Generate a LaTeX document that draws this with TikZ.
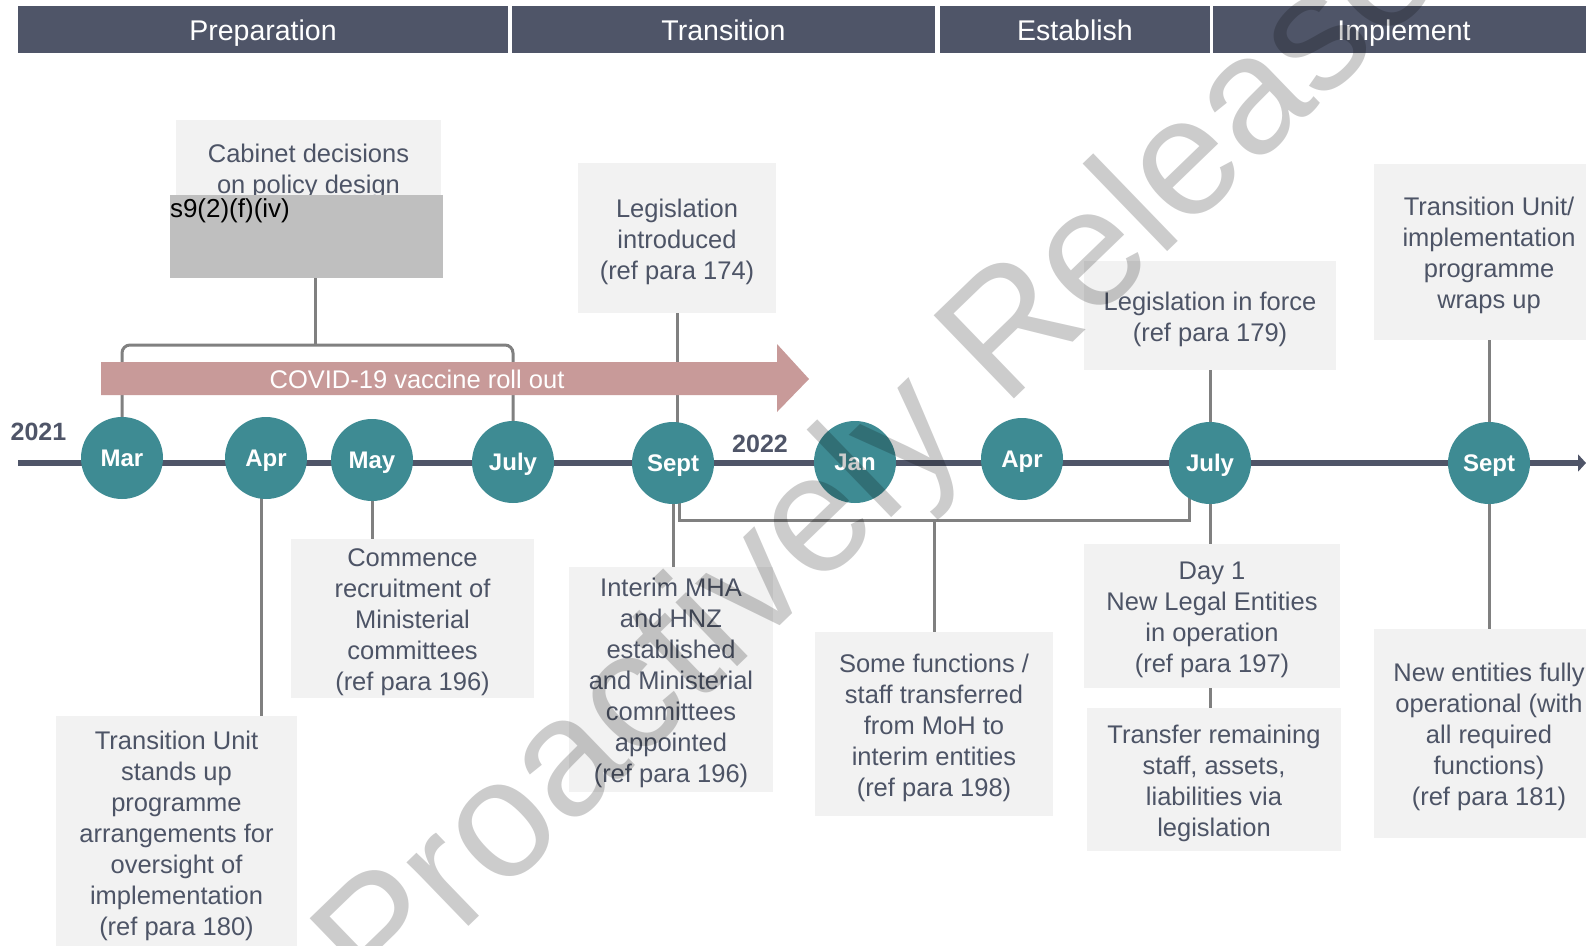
\documentclass[tikz,border=0pt]{standalone}
\usepackage{fontspec}
\setmainfont{Liberation Sans}
\usetikzlibrary{arrows.meta}
\definecolor{hdr}{HTML}{4F5568}
\definecolor{txt}{HTML}{4D5466}
\definecolor{tealc}{HTML}{3E8B93}
\definecolor{boxbg}{HTML}{F2F2F2}
\definecolor{conncol}{HTML}{808080}
\definecolor{covidc}{HTML}{C89A99}
\definecolor{redactc}{HTML}{BFBFBF}
\newcommand{\topstrut}{\rule{0pt}{25.5pt}}
\begin{document}
\begin{tikzpicture}[x=1pt,y=-1pt,
  hdrbar/.style={fill=hdr, text=white, minimum height=47pt, inner sep=0pt, text height=24pt, text depth=1.6pt, font=\fontsize{28.5}{34}\selectfont},
  month/.style={circle, fill=tealc, minimum size=82pt, inner sep=0pt, text=white, text height=17.5pt, text depth=0pt, font=\bfseries\fontsize{24}{28}\selectfont},
  infobox/.style={fill=boxbg, text=txt, inner sep=0pt, align=center, font=\fontsize{25.5}{31}\selectfont},
  conn/.style={draw=conncol, line width=3pt},
  yearlbl/.style={text=hdr, font=\bfseries\fontsize{25}{30}\selectfont, inner sep=0pt},
]
\clip (0,0) rectangle (1586,945);
\fill[white] (0,0) rectangle (1586,945);

% header bars
\node[hdrbar, minimum width=490pt] (hprep) at (263,29.5) {Preparation};
\node[hdrbar, minimum width=423pt] (htrans) at (723.5,29.5) {Transition};
\node[hdrbar, minimum width=270pt] (hest) at (1075,29.5) {Establish};
\node[hdrbar, minimum width=382pt] (himp) at (1404,29.5) {Implement};

% helper coordinates
\coordinate (cabj) at (315.6,345);
\coordinate (aprj) at (261,0);
\coordinate (sjL) at (679,520);
\coordinate (sjR) at (1189,520);
\coordinate (tlstart) at (18,463);
\coordinate (tlend) at (1586,463);

% boxes
\node[infobox, minimum width=265pt, minimum height=103pt] (cab) at (308.5,171.5) {Cabinet decisions\\on policy design};
\node[fill=redactc, minimum width=273pt, minimum height=83pt, inner sep=0pt] (redact) at (306.5,236.5) {};
\node[anchor=north west, inner sep=0pt, yshift=-4pt, text=black, font=\fontsize{26}{30}\selectfont] (s9) at (redact.north west) {s9(2)(f)(iv)};

\node[infobox, minimum width=198pt, minimum height=150pt] (legint) at (677,238) {\topstrut Legislation\\introduced\\(ref para 174)};
\node[infobox, minimum width=252pt, minimum height=109pt] (legforce) at (1210,315.5) {\topstrut Legislation in force\\(ref para 179)};
\node[infobox, minimum width=230pt, minimum height=176pt] (tuwrap) at (1489,252) {\topstrut Transition Unit/\\implementation\\programme\\wraps up};

\node[infobox, minimum width=241pt, minimum height=233pt] (tustand) at (176.5,832.5) {\topstrut Transition Unit\\stands up\\programme\\arrangements for\\oversight of\\implementation\\(ref para 180)};
\node[infobox, minimum width=243pt, minimum height=159pt] (commence) at (412.5,618.5) {\topstrut Commence\\recruitment of\\Ministerial\\committees\\(ref para 196)};
\node[infobox, minimum width=204pt, minimum height=225pt] (interim) at (671,679.5) {\topstrut Interim MHA\\and HNZ\\established\\and Ministerial\\committees\\appointed\\(ref para 196)};
\node[infobox, minimum width=238pt, minimum height=184pt] (somef) at (934,724) {\topstrut Some functions /\\staff transferred\\from MoH to\\interim entities\\(ref para 198)};
\node[infobox, minimum width=256pt, minimum height=144pt] (day1) at (1212,616) {\topstrut Day 1\\New Legal Entities\\in operation\\(ref para 197)};
\node[infobox, minimum width=254pt, minimum height=143pt] (transfer) at (1214,779.5) {\topstrut Transfer remaining\\staff, assets,\\liabilities via\\legislation};
\node[infobox, minimum width=230pt, minimum height=209pt] (newent) at (1489,733.5) {\topstrut New entities fully\\operational (with\\all required\\functions)\\(ref para 181)};

% month positions (invisible anchors for the connectors)
\path
  (122,458) node[month, fill=none, text opacity=0] (mar) {Mar}
  (266,458) node[month, fill=none, text opacity=0] (apr1) {Apr}
  (372,460) node[month, fill=none, text opacity=0] (may) {May}
  (513,462) node[month, fill=none, text opacity=0] (july1) {July}
  (673,463) node[month, fill=none, text opacity=0] (sept1) {Sept}
  (855,462) node[month, fill=none, text opacity=0] (jan) {Jan}
  (1022,459) node[month, fill=none, text opacity=0] (apr2) {Apr}
  (1210,463) node[month, fill=none, text opacity=0] (july2) {July}
  (1489,463) node[month, fill=none, text opacity=0] (sept2) {Sept};

% connectors
\draw[conn, rounded corners=8pt] (mar.center) |- (cabj) -| (july1.center);
\draw[conn] (redact.south -| cabj) -- (cabj);
\draw[conn] (legint.south) -- (legint.south |- sept1.center);
\draw[conn] (legforce.south) -- (legforce.south |- july2.center);
\draw[conn] (tuwrap.south) -- (tuwrap.south |- sept2.center);
\draw[conn] (aprj |- apr1.center) -- (aprj |- tustand.north);
\draw[conn] (may.center) -- (may.center |- commence.north);
\draw[conn] (sept1.center) -- (sept1.center |- interim.north);
\draw[conn] (sept1.center -| sjL) -- (sjL) -- (sjR) -- (sjR |- july2.center);
\draw[conn] (somef.north) -- (somef.north |- sjR);
\draw[conn] (july2.center) -- (july2.center |- day1.north);
\draw[conn] (day1.south -| july2.center) -- (transfer.north -| july2.center);
\draw[conn] (sept2.center) -- (sept2.center |- newent.north);

% COVID arrow
\fill[covidc] (101,362) -- (777,362) -- (777,344) -- (809,379) -- (777,412) -- (777,395) -- (101,395) -- cycle;
\node[text=white, inner sep=0pt, font=\fontsize{25.5}{30}\selectfont] (covidlbl) at (417,379) {COVID-19 vaccine roll out};

% timeline
\draw[draw=hdr, line width=5.5pt, -{Triangle[length=8pt,width=17pt]}] (tlstart) -- (tlend);

% month circles
\node[month] at (mar.center) (marc) {Mar};
\node[month] at (apr1.center) (apr1c) {Apr};
\node[month] at (may.center) (mayc) {May};
\node[month] at (july1.center) (july1c) {July};
\node[month] at (sept1.center) (sept1c) {Sept};
\node[month] at (jan.center) (janc) {Jan};
\node[month] at (apr2.center) (apr2c) {Apr};
\node[month] at (july2.center) (july2c) {July};
\node[month] at (sept2.center) (sept2c) {Sept};

% years
\node[yearlbl] (y2021) at (38.5,432) {2021};
\node[yearlbl] (y2022) at (760,444) {2022};

% watermark
\node[rotate=44, anchor=base west, inner sep=0pt, text=black, text opacity=0.2, font=\fontsize{168}{168}\selectfont] (wm) at (380,1012) {Proactively Released};
\end{tikzpicture}
\end{document}
